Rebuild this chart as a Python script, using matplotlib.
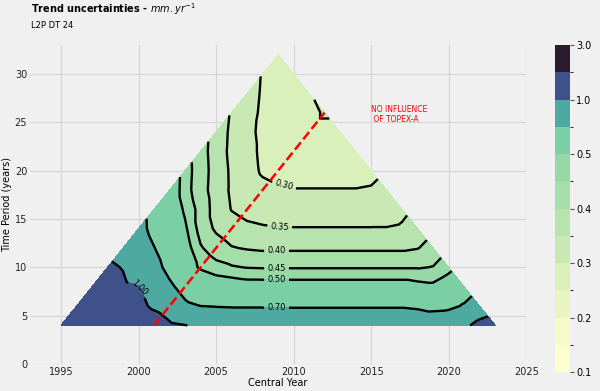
import matplotlib
matplotlib.use("Agg")
import matplotlib.pyplot as plt
import matplotlib.tri as mtri
from matplotlib.colors import ListedColormap, BoundaryNorm
import numpy as np

# altimetry record covered by the trend windows
first_year, last_year = 1993, 2025
periods = [4, 6, 8, 10, 12, 14, 16, 18, 20, 22, 24, 26, 28, 30, 32]

# trend uncertainty (mm/yr) along each period, earliest to latest central year
u04 = [1.35, 1.30, 1.25, 1.20, 1.15, 1.10, 1.07, 1.04, 1.005, 0.97, 0.93, 0.90, 0.88, 0.86,
       0.85, 0.85, 0.85, 0.85, 0.85, 0.85, 0.85, 0.85, 0.85, 0.85, 0.86, 0.90, 0.95, 1.08, 1.15]
u06 = [1.25, 1.18, 1.12, 1.07, 1.03, 0.98, 0.86, 0.73, 0.70, 0.69, 0.685,
       0.685, 0.685, 0.685, 0.685, 0.685, 0.685, 0.685, 0.685, 0.685, 0.685, 0.685,
       0.67, 0.64, 0.65, 0.72, 0.826]
u08 = [1.15, 1.09, 1.04, 1.005, 0.86, 0.73, 0.64, 0.58, 0.55, 0.54,
       0.53, 0.53, 0.53, 0.53, 0.53, 0.53, 0.53, 0.53, 0.53, 0.53, 0.53,
       0.52, 0.513, 0.54, 0.58]
u10 = [1.04, 0.99, 0.87, 0.76, 0.65, 0.54, 0.49, 0.465, 0.455, 0.448,
       0.446, 0.446, 0.446, 0.446, 0.446, 0.446, 0.446, 0.446, 0.446, 0.446, 0.446,
       0.452, 0.481]
u12 = [0.907, 0.80, 0.705, 0.61, 0.53, 0.455, 0.425, 0.403, 0.396,
       0.392, 0.392, 0.392, 0.392, 0.392, 0.392, 0.392, 0.392, 0.392, 0.392,
       0.398, 0.418]
u14 = [0.759, 0.65, 0.57, 0.51, 0.43, 0.392, 0.372, 0.36, 0.355,
       0.352, 0.352, 0.352, 0.352, 0.352, 0.352, 0.352, 0.352, 0.356, 0.374]
u16 = [0.645, 0.555, 0.49, 0.43, 0.38, 0.348, 0.335, 0.33,
       0.326, 0.326, 0.326, 0.326, 0.326, 0.326, 0.326, 0.328, 0.339]
u18 = [0.555, 0.47, 0.42, 0.377, 0.343, 0.322, 0.31, 0.304,
       0.301, 0.301, 0.301, 0.301, 0.301, 0.303, 0.313]
u20 = [0.473, 0.422, 0.38, 0.342, 0.315, 0.295, 0.29, 0.289, 0.289, 0.289, 0.289, 0.289, 0.29]
u22 = [0.42, 0.377, 0.338, 0.312, 0.293, 0.285, 0.282, 0.282, 0.282, 0.282, 0.282]
u24 = [0.38, 0.34, 0.312, 0.29, 0.282, 0.277, 0.277, 0.277, 0.277]
u26 = [0.345, 0.318, 0.292, 0.28, 0.276, 0.274, 0.31]
u28 = [0.321, 0.295, 0.28, 0.274, 0.295]
u30 = [0.297, 0.28, 0.272]
u32 = [0.28]
rows = [u04, u06, u08, u10, u12, u14, u16, u18, u20, u22, u24, u26, u28, u30, u32]

levels = [0.1, 0.15, 0.2, 0.25, 0.3, 0.35, 0.4, 0.45, 0.5, 0.7, 1.0, 2.0, 3.0]
line_levels = [0.3, 0.35, 0.4, 0.45, 0.5, 0.7, 1.0]
cbar_ticks = [0.1, 0.2, 0.3, 0.4, 0.5, 1.0, 3.0]
colors = ['#fdfdcf', '#f4fac8', '#e8f5c2', '#daf0bb', '#c8e9b4', '#b6e3ae',
          '#a6dea9', '#97d8a7', '#7bcfa4', '#4ea9a0', '#3e5189', '#2a1b2f']

# windows starting after this year are free of TOPEX-A
topex_cut = 1999
topex_periods = np.array([4, 26])

xs, ys, zs = [], [], []
for p, row in zip(periods, rows):
    start = first_year + p // 2
    for i, v in enumerate(row):
        xs.append(start + i)
        ys.append(p)
        zs.append(v)
tri = mtri.Triangulation(xs, ys)

bg = '#f0f0f0'
fig = plt.figure(figsize=(6, 3.91), dpi=100, facecolor=bg)
ax = fig.add_axes([0.05, 0.069, 0.827, 0.816], facecolor=bg)
cax = fig.add_axes([0.925, 0.0486, 0.025, 0.836])

cmap = ListedColormap(colors)
norm = BoundaryNorm(levels, cmap.N)
cf = ax.tricontourf(tri, zs, levels=levels, cmap=cmap, norm=norm, zorder=1)
cs = ax.tricontour(tri, zs, levels=line_levels, colors='black', linewidths=1.7, zorder=2)
ax.clabel(cs, fmt='%.2f', fontsize=6, inline=True,
          manual=[(2009.3, 18.1), (2009.1, 14.1), (2008.9, 11.7), (2008.9, 9.9),
                  (2008.9, 8.7), (2008.9, 5.8), (2000.1, 8.0)])

ax.plot(topex_cut + topex_periods / 2, topex_periods, color='red', ls='--', lw=1.8, zorder=5)
ax.text(2015, 25.8, 'NO INFLUENCE\n OF TOPEX-A', color='red', fontsize=5.5,
        ha='left', va='center')

ax.set_xlim(first_year, last_year)
ax.set_ylim(0, 33)
ax.set_xticks(range(1995, 2026, 5))
ax.set_yticks(range(0, 31, 5))
ax.grid(True, color='#d6d6d6', lw=0.9)
ax.set_axisbelow(True)
for s in ax.spines.values():
    s.set_visible(False)
ax.tick_params(length=0, labelsize=7, colors='#222222', pad=2)
ax.set_xlabel('Central Year', fontsize=7, labelpad=1)
ax.set_ylabel('Time Period (years)', fontsize=7, labelpad=2)

cb = fig.colorbar(cf, cax=cax, ticks=cbar_ticks)
cb.outline.set_visible(False)
cb.ax.tick_params(labelsize=7, length=3, width=0.8, color='#555555', pad=1.5)

fig.text(0.052, 1 - 9 / 391, 'Trend uncertainties - $mm.yr^{-1}$', fontsize=7,
         fontweight='bold', va='center', ha='left')
fig.text(0.052, 1 - 25 / 391, 'L2P DT 24', fontsize=6, va='center', ha='left')

fig.savefig('out.png', dpi=100, facecolor=bg)
